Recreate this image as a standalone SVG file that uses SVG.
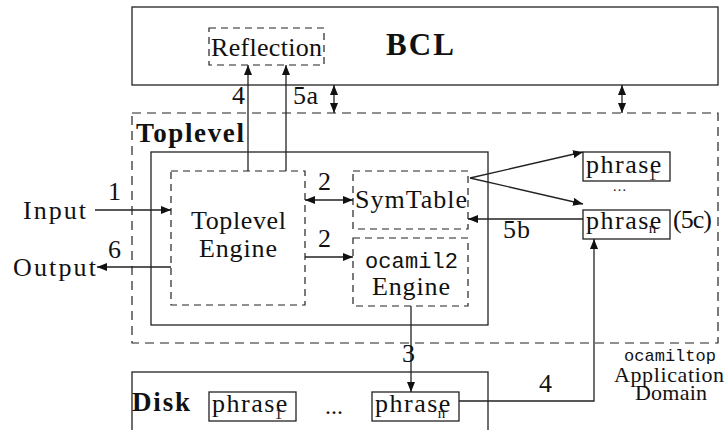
<svg xmlns="http://www.w3.org/2000/svg" width="726" height="430" viewBox="0 0 726 430">
<style>
text{font-family:"Liberation Serif","Times New Roman",serif;font-size:26px;fill:#111}
.b{font-weight:bold}
.m{font-family:"Liberation Mono","Courier New",monospace}
.ph{letter-spacing:1.5px}
.sub{font-size:15px;letter-spacing:0}
.sm{font-size:22px}
.box{fill:none;stroke:#222;stroke-width:1.3}
.dash{fill:none;stroke:#222;stroke-width:1.2;stroke-dasharray:7 5}
.odash{fill:none;stroke:#222;stroke-width:1.2;stroke-dasharray:9 6}
.c{fill:none;stroke:#222;stroke-width:1.3}
</style>
<defs>
<marker id="ah" viewBox="0 0 10 8" refX="10" refY="4" markerWidth="10" markerHeight="8" markerUnits="userSpaceOnUse" orient="auto-start-reverse">
<path d="M0,0 L10,4 L0,8 Z" fill="#111"/>
</marker>
</defs>
<rect width="726" height="430" fill="#fff"/>

<g id="bcl">
<rect class="box" x="132" y="7" width="586" height="78"/>
<text class="b" x="386" y="55" style="font-size:31px" textLength="68">BCL</text>
</g>
<g id="reflection">
<rect class="dash" x="209" y="28" width="115" height="37"/>
<text x="211" y="56" textLength="111">Reflection</text>
</g>
<g id="toplevel">
<rect class="odash" x="132" y="113" width="586" height="230"/>
<text class="b" x="136" y="142" style="font-size:27px" textLength="108">Toplevel</text>
</g>
<g id="toplevel-inner">
<rect class="box" x="151" y="152" width="337" height="173"/>
</g>
<g id="toplevel-engine">
<rect class="dash" x="171" y="171" width="134" height="134"/>
<text x="191" y="229" textLength="95">Toplevel</text>
<text x="199" y="257" textLength="78">Engine</text>
</g>
<g id="symtable">
<rect class="dash" x="353" y="171" width="115" height="58"/>
<text x="355" y="208" textLength="112">SymTable</text>
</g>
<g id="ocamil2-engine">
<rect class="dash" x="353" y="238" width="115" height="68"/>
<text class="m" x="365" y="268" style="font-size:22px" textLength="93">ocamil2</text>
<text x="372" y="295" textLength="78">Engine</text>
</g>
<g id="phrase1-top">
<rect class="box" x="583" y="152" width="87" height="29"/>
<text class="ph" x="586" y="173">phrase<tspan class="sub" dx="-14" dy="7">1</tspan></text>
</g>
<g id="dots-top">
<text x="613" y="191" style="font-size:14px" textLength="13">...</text>
</g>
<g id="phrasen-top">
<rect class="box" x="583" y="210" width="87" height="29"/>
<text class="ph" x="586" y="229">phrase<tspan class="sub" dx="-14" dy="4">n</tspan></text>
<text x="673" y="228" textLength="39">(5c)</text>
</g>
<g id="input">
<text x="23" y="219" textLength="63">Input</text>
</g>
<g id="output">
<text x="13" y="276" textLength="83">Output</text>
</g>
<g id="disk">
<rect class="box" x="132" y="372" width="356" height="70"/>
<text class="b" x="132" y="411" style="font-size:27px" textLength="58">Disk</text>
</g>
<g id="disk-phrase1">
<rect class="box" x="209" y="392" width="87" height="29"/>
<text class="ph" x="212" y="412">phrase<tspan class="sub" dx="-14" dy="7">1</tspan></text>
</g>
<g id="disk-dots">
<text x="325" y="414" style="font-size:24px" textLength="18">...</text>
</g>
<g id="disk-phrasen">
<rect class="box" x="372" y="392" width="87" height="29"/>
<text class="ph" x="375" y="412">phrase<tspan class="sub" dx="-14" dy="6">n</tspan></text>
</g>
<g id="app-domain">
<text class="m" x="670" y="361" text-anchor="middle" style="font-size:17px">ocamiltop</text>
<text class="sm" x="669" y="382" text-anchor="middle" textLength="110">Application</text>
<text class="sm" x="671" y="400" text-anchor="middle" textLength="72">Domain</text>
</g>

<g id="connectors">
<path class="c" d="M95,210 H171" marker-end="url(#ah)"/>
<text x="108" y="200">1</text>
<path class="c" d="M171,267 H97" marker-end="url(#ah)"/>
<text x="108" y="258">6</text>
<path class="c" d="M248,171 V65" marker-end="url(#ah)"/>
<text x="232" y="104">4</text>
<path class="c" d="M286,171 V65" marker-end="url(#ah)"/>
<text x="293" y="104" textLength="25">5a</text>
<path class="c" d="M334,85 V113" marker-start="url(#ah)" marker-end="url(#ah)"/>
<path class="c" d="M622,85 V113" marker-start="url(#ah)" marker-end="url(#ah)"/>
<path class="c" d="M305,200 H353" marker-start="url(#ah)" marker-end="url(#ah)"/>
<text x="318" y="190">2</text>
<path class="c" d="M305,257 H353" marker-end="url(#ah)"/>
<text x="318" y="247">2</text>
<path class="c" d="M470,178 L583,152" marker-end="url(#ah)"/>
<path class="c" d="M470,178 L583,204" marker-end="url(#ah)"/>
<path class="c" d="M583,219 H468" marker-end="url(#ah)"/>
<text x="503" y="238" textLength="27">5b</text>
<path class="c" d="M411,306 V392" marker-end="url(#ah)"/>
<text x="402" y="362">3</text>
<path class="c" d="M459,401 H594 V239" marker-end="url(#ah)"/>
<text x="539" y="392">4</text>
</g>
</svg>
